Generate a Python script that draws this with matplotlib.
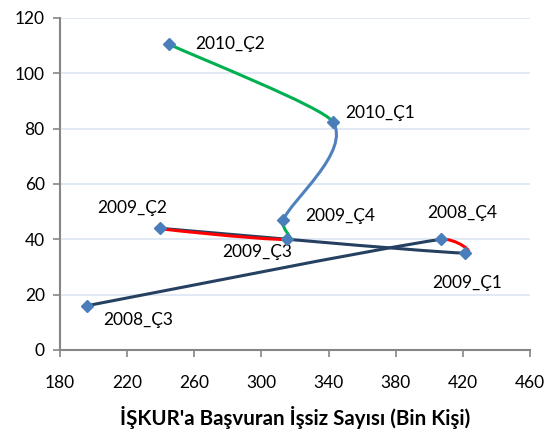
import matplotlib
matplotlib.use('Agg')
import matplotlib.pyplot as plt
from matplotlib.path import Path
from matplotlib.patches import PathPatch
import numpy as np

plt.rcParams['font.family'] = ['Lato', 'DejaVu Sans']

# dönemler (sırayla)
periods = ['2008_Ç3', '2008_Ç4', '2009_Ç1', '2009_Ç2', '2009_Ç3', '2009_Ç4', '2010_Ç1', '2010_Ç2']
iskur = [196, 407, 421, 239.5, 315, 313, 342.5, 245]
yval = [16, 40, 35, 44, 40, 47, 82.5, 110.5]
seg_colors = ['#254061', '#ff0000', '#254061', '#ff0000', '#00b050', '#4f81bd', '#00b050']
seg_tension = [1/6, 1/6, 1/6, 1/6, 1/6, 1/6, 1/12]
xticks = [180, 220, 260, 300, 340, 380, 420, 460]
yticks = [0, 20, 40, 60, 80, 100, 120]
# etiket kaydırmaları (piksel)
label_off = [(16, -14), (-14, 26), (-32, -30), (-63, 20), (-64, -13), (22, 4), (12, 9), (26, 0)]

fig = plt.figure(figsize=(5.58, 4.38), dpi=100)
ax = fig.add_axes([60/558, 1-350/438, 470/558, 332/438])
ax.set_xlim(180, 460)
ax.set_ylim(0, 120)

# excel tarzı yumuşatma, piksel uzayında bezier kontrol noktaları
tr = ax.transData
pts = tr.transform(np.column_stack([iskur, yval]))
n = len(pts)


def ctrl(a, b, seg, t):
    d = b - a
    L = np.hypot(*d)
    if L == 0:
        return np.zeros(2)
    k = min(t, 0.5 * seg / L)
    return d * k


order = [0, 2, 1, 3, 4, 5, 6]
for i in order:
    p0 = pts[max(i-1, 0)]
    p1 = pts[i]
    p2 = pts[i+1]
    p3 = pts[min(i+2, n-1)]
    seg = np.hypot(*(p2 - p1))
    c1 = p1 + ctrl(p0, p2, seg, seg_tension[i])
    c2 = p2 - ctrl(p1, p3, seg, 1/6)
    verts = tr.inverted().transform(np.array([p1, c1, c2, p2]))
    path = Path(verts, [Path.MOVETO, Path.CURVE4, Path.CURVE4, Path.CURVE4])
    ax.add_patch(PathPatch(path, facecolor='none', edgecolor=seg_colors[i], lw=2.2,
                           capstyle='round', zorder=3))

ax.plot(iskur, yval, linestyle='none', marker='D', markersize=6.5,
        color='#4a7ebb', markeredgecolor='#4a7ebb', zorder=5)

for lab, x, y, off in zip(periods, iskur, yval, label_off):
    ax.annotate(lab, (x, y), xytext=off, textcoords='offset pixels',
                fontsize=12.5, color='black', va='center', ha='left')

ax.set_xticks(xticks)
ax.set_yticks(yticks)
ax.yaxis.grid(True, color='#dce6f2', lw=1.2)
ax.set_axisbelow(True)
for s in ['top', 'right']:
    ax.spines[s].set_visible(False)
for s in ['left', 'bottom']:
    ax.spines[s].set_color('#868686')
    ax.spines[s].set_linewidth(1.5)
ax.tick_params(axis='both', colors='#868686', labelcolor='black', labelsize=12.5,
               length=5, width=1.2, direction='out')
ax.tick_params(axis='x', pad=13)
ax.tick_params(axis='y', pad=6)
ax.set_xlabel("İŞKUR'a Başvuran İşsiz Sayısı (Bin Kişi)", fontsize=14.8,
              fontweight='bold', labelpad=11)

fig.savefig('out.png', dpi=100)
